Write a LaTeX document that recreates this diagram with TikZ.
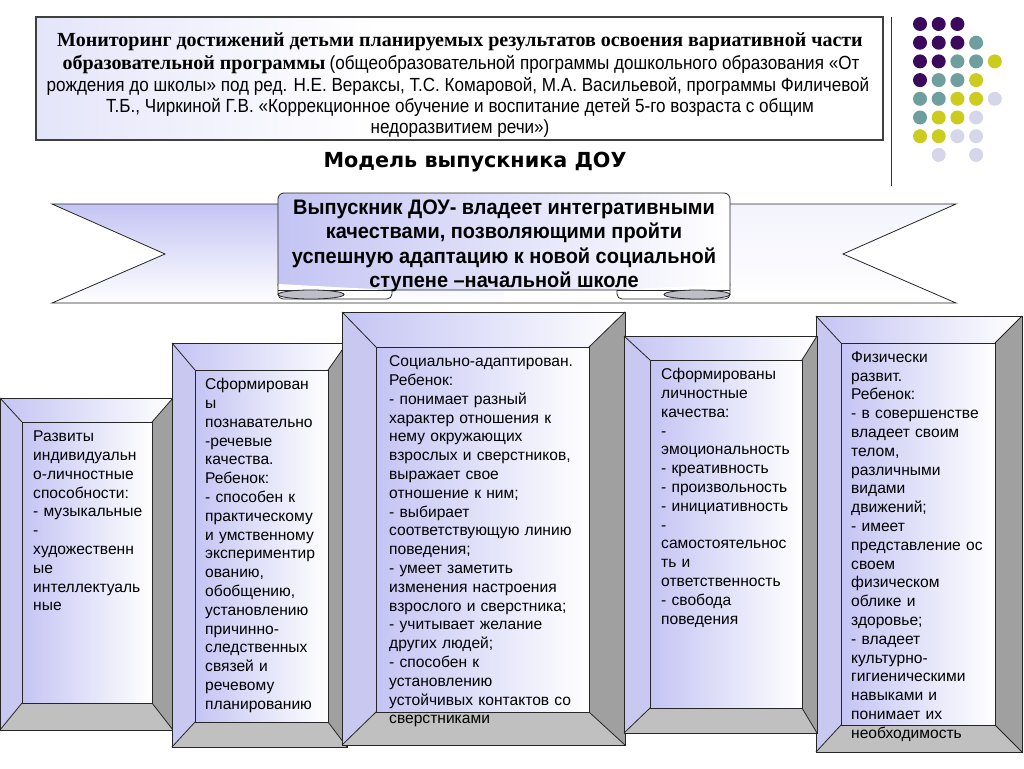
\documentclass[tikz,border=0pt]{standalone}
\usepackage{fontspec}
\setmainfont{Liberation Sans}
\newfontfamily\tserif{Liberation Serif}
\newfontfamily\narrowsans[FakeStretch=0.9]{Liberation Sans}
\newfontfamily\ribbonfont[FakeStretch=0.95]{Liberation Sans}
\newfontfamily\headfont{DejaVu Sans}
\definecolor{lavA}{RGB}{196,196,244}
\definecolor{lavB}{RGB}{200,200,240}
\definecolor{grayR}{RGB}{160,160,160}
\definecolor{grayB}{RGB}{192,192,192}
\definecolor{curlgray}{RGB}{190,190,200}
\definecolor{dotP}{RGB}{60,10,92}
\definecolor{dotT}{RGB}{110,158,158}
\definecolor{dotY}{RGB}{204,204,30}
\definecolor{dotL}{RGB}{214,214,234}
\pgfdeclarehorizontalshading{titlesh}{100bp}{color(0bp)=(lavA); color(45bp)=(white); color(100bp)=(white)}
\tikzset{
  boxline/.style={draw=black!85, line width=0.8pt},
  ribline/.style={draw=black!85, line width=0.8pt},
  boxtext/.style={anchor=north west, inner sep=0pt, align=left, text width=220pt,
    font=\fontsize{15.6}{18.8}\selectfont},
  titleline/.style={anchor=base, inner sep=0pt},
  dotc/.style={circle, inner sep=0pt, minimum size=14pt},
}
\newcommand\bevbox[8]{%
  \shade[left color=lavA, right color=white] (#1,#2) -- (#3,#2) -- (#7,#6) -- (#5,#6) -- cycle;
  \fill[lavB] (#1,#2) -- (#5,#6) -- (#5,#8) -- (#1,#4) -- cycle;
  \fill[grayR] (#3,#2) -- (#3,#4) -- (#7,#8) -- (#7,#6) -- cycle;
  \fill[grayB] (#1,#4) -- (#3,#4) -- (#7,#8) -- (#5,#8) -- cycle;
  \shade[left color=lavA, right color=white] (#5,#6) rectangle (#7,#8);
  \draw[boxline] (#1,#2) rectangle (#3,#4);
  \draw[boxline] (#5,#6) rectangle (#7,#8);
  \draw[boxline] (#1,#2) -- (#5,#6) (#3,#2) -- (#7,#6) (#3,#4) -- (#7,#8) (#1,#4) -- (#5,#8);
}
\begin{document}
\begin{tikzpicture}[x=1pt,y=-1pt]
\useasboundingbox (0,0) rectangle (1024,768);
\fill[white] (0,0) rectangle (1024,768);

% title box
\shade[shading=titlesh] (36,17) rectangle (883,140);
\draw[draw=black!75, line width=1.6pt] (36,17) rectangle (883,140);
\node[titleline, font=\tserif\bfseries\fontsize{20}{22}\selectfont] (t1) at (460,46)
  {Мониторинг достижений детьми планируемых результатов освоения вариативной части};
\node[titleline] (t2) at (461,69)
  {{\tserif\bfseries\fontsize{20}{22}\selectfont образовательной программы}\hspace{4pt}{\narrowsans\fontsize{19}{22}\selectfont (общеобразовательной программы дошкольного образования «От}};
\node[titleline, font=\narrowsans\fontsize{19}{22}\selectfont] (t3) at (458,91)
  {рождения до школы» под ред. Н.Е. Вераксы, Т.С. Комаровой, М.А. Васильевой, программы Филичевой};
\node[titleline, font=\narrowsans\fontsize{19}{22}\selectfont] (t4) at (460,112)
  {Т.Б., Чиркиной Г.В. «Коррекционное обучение и воспитание детей 5-го возраста с общим};
\node[titleline, font=\narrowsans\fontsize{19}{22}\selectfont] (t5) at (460,133)
  {недоразвитием речи»)};

% separator line and dots
\coordinate (vtop) at (891,17);
\coordinate (vbot) at (891,186);
\draw[black!80, line width=0.9pt] (vtop) -- (vbot);
\foreach \c/\r/\col in {1/1/dotP,2/1/dotP,3/1/dotP,
  1/2/dotP,2/2/dotP,3/2/dotP,4/2/dotT,
  1/3/dotP,2/3/dotP,3/3/dotT,4/3/dotT,5/3/dotY,
  1/4/dotP,2/4/dotT,3/4/dotT,4/4/dotY,
  1/5/dotT,2/5/dotT,3/5/dotY,4/5/dotY,5/5/dotL,
  1/6/dotT,2/6/dotY,3/6/dotY,4/6/dotL,
  1/7/dotY,2/7/dotY,3/7/dotL,4/7/dotL,
  2/8/dotL,4/8/dotL}
  \node[dotc, fill=\col] (d\c\r) at ({920+18.7*(\c-1)},{24+18.7*(\r-1)}) {};

% heading
\node[inner sep=0pt, font=\headfont\bfseries\fontsize{20.7}{24}\selectfont] (head) at (475,162) {Модель выпускника ДОУ};

% ribbon wings (extend behind the panel)
\shadedraw[top color=lavA, bottom color=white, ribline]
  (504,204) -- (52,204) -- (165,254) -- (52,303) -- (504,303);
\shadedraw[top color=lavA!20, bottom color=white, ribline]
  (504,204) -- (956,204) -- (843,254) -- (956,303) -- (504,303);
% ribbon panel
\shadedraw[left color=lavA, right color=white, ribline, rounded corners=6pt]
  (278,290) -- (278,193) -- (730,193) -- (730,290) -- cycle;
% folds at the bottom of the panel
\filldraw[fill=white, ribline, rounded corners=5pt] (278,284) -- (278,299) -- (392,299) [sharp corners] -- (392,290);
\filldraw[fill=white, ribline, rounded corners=5pt] (730,284) -- (730,299) -- (617,299) [sharp corners] -- (617,290);
\draw[ribline] (278,290) -- (392,290) (617,290) -- (730,290);
\filldraw[fill=curlgray, ribline] (311,294.5) ellipse [x radius=33, y radius=4.5];
\filldraw[fill=curlgray, ribline] (697,294.5) ellipse [x radius=33, y radius=4.5];
\node[anchor=north, align=center, inner sep=0pt, font=\ribbonfont\bfseries\fontsize{21}{24.4}\selectfont] (ribbon) at (504,198)
{\rule{0pt}{16pt}Выпускник ДОУ- владеет интегративными\\
качествами, позволяющими пройти\\
успешную адаптацию к новой социальной\\
ступене –начальной школе};

% bevel boxes
\bevbox{0}{398}{173}{730}{22}{422}{152}{703}
\bevbox{172}{343}{347}{747}{195}{370}{328}{722}
\bevbox{342}{312}{625}{745}{376}{347}{589}{712}
\bevbox{816}{316}{1022}{752}{841}{343}{995}{725}
\bevbox{624}{336}{817}{733}{650}{360}{802}{708}

\node[boxtext] (b1) at (33,429.5) {\rule{0pt}{12pt}Развиты\\ индивидуальн\\ о-личностные\\ способности:\\ - музыкальные\\ -\\ художественн\\ ые\\ интеллектуаль\\ ные};
\node[boxtext] (b2) at (205,377.5) {\rule{0pt}{12pt}Сформирован\\ ы\\ познавательно\\ -речевые\\ качества.\\ Ребенок:\\ - способен к\\ практическому\\ и умственному\\ экспериментир\\ ованию,\\ обобщению,\\ установлению\\ причинно-\\ следственных\\ связей и\\ речевому\\ планированию};
\node[boxtext] (b3) at (389,354.5) {\rule{0pt}{12pt}Социально-адаптирован.\\ Ребенок:\\ - понимает разный\\ характер отношения к\\ нему окружающих\\ взрослых и сверстников,\\ выражает свое\\ отношение к ним;\\ - выбирает\\ соответствующую линию\\ поведения;\\ - умеет заметить\\ изменения настроения\\ взрослого и сверстника;\\ - учитывает желание\\ других людей;\\ - способен к\\ установлению\\ устойчивых контактов со\\ сверстниками};
\node[boxtext] (b4) at (661,367.5) {\rule{0pt}{12pt}Сформированы\\ личностные\\ качества:\\ -\\ эмоциональность\\ - креативность\\ - произвольность\\ - инициативность\\ -\\ самостоятельнос\\ ть и\\ ответственность\\ - свобода\\ поведения};
\node[boxtext] (b5) at (851,350) {\rule{0pt}{12pt}Физически\\ развит.\\ Ребенок:\\ - в совершенстве\\ владеет своим\\ телом,\\ различными\\ видами\\ движений;\\ - имеет\\ представление ос\\ своем\\ физическом\\ облике и\\ здоровье;\\ - владеет\\ культурно-\\ гигиеническими\\ навыками и\\ понимает их\\ необходимость};
\end{tikzpicture}
\end{document}
